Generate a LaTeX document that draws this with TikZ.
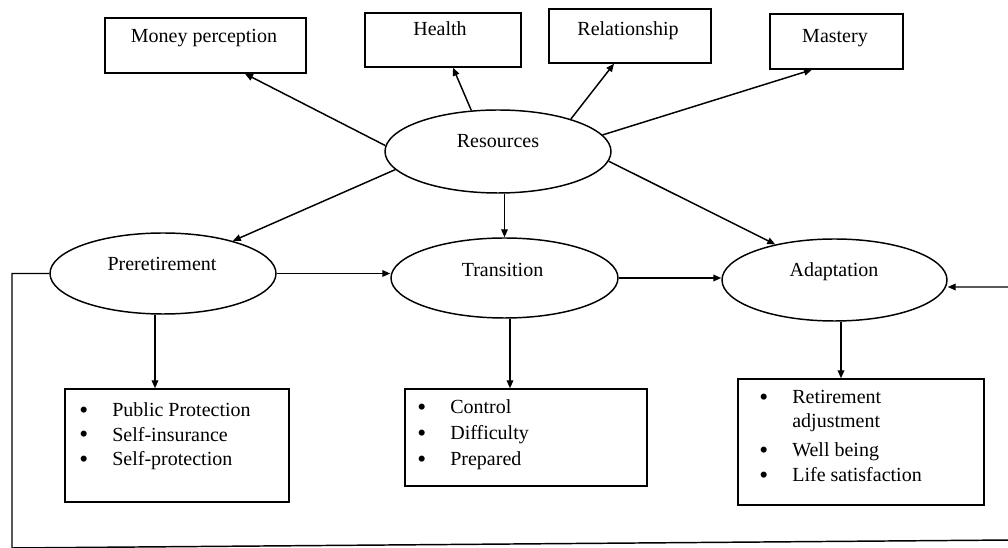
\documentclass[tikz,border=0pt]{standalone}
\usepackage{fontspec}
\setmainfont{Liberation Serif}
\usetikzlibrary{shapes.geometric,arrows.meta,calc}
\newcommand{\bigbul}{\raisebox{-1.3pt}{\fontsize{19}{19}\selectfont\textbullet}}
\tikzset{
  boxnode/.style={draw, rectangle, line width=1.1pt, inner sep=0pt},
  ellnode/.style={draw, ellipse, line width=1.1pt, inner sep=0pt},
  arr/.style={-{Triangle[length=6pt,width=5pt]}, line width=1.1pt},
  lbl/.style={anchor=base, inner sep=0pt, font=\fontsize{15}{18.75}\selectfont},
  lst/.style={anchor=base west, inner sep=0pt, font=\fontsize{15}{18.75}\selectfont}
}
\begin{document}
\begin{tikzpicture}[x=0.75pt,y=-0.75pt]
\useasboundingbox (0,0) rectangle (1008,548);
% top boxes
\node[boxnode, minimum width=150.75pt, minimum height=41.25pt] (money) at (205.5,45.5) {};
\node[boxnode, minimum width=117pt, minimum height=40.5pt] (health) at (443,40) {};
\node[boxnode, minimum width=121.5pt, minimum height=40.5pt] (relation) at (630,36) {};
\node[boxnode, minimum width=99.75pt, minimum height=41.25pt] (mastery) at (836.5,41.5) {};
\node[lbl] (moneyt) at (204,43) {Money perception};
\node[lbl] (healtht) at (440,36) {Health};
\node[lbl] (relationt) at (628,36) {Relationship};
\node[lbl] (masteryt) at (835,43) {Mastery};
% ellipses
\node[ellnode, minimum width=169.5pt, minimum height=62.25pt] (res) at (498,151.5) {};
\node[ellnode, minimum width=169.5pt, minimum height=60.75pt] (pre) at (163,273.5) {};
\node[ellnode, minimum width=170.25pt, minimum height=60pt] (trans) at (504.5,278) {};
\node[ellnode, minimum width=168.75pt, minimum height=61.5pt] (adapt) at (834.5,280) {};
\node[lbl] (rest) at (498,148) {Resources};
\node[lbl] (pret) at (162,271) {Preretirement};
\node[lbl] (transt) at (502.5,277) {Transition};
\node[lbl] (adaptt) at (834,277) {Adaptation};
% bottom boxes
\node[boxnode, minimum width=168pt, minimum height=84.75pt] (box1) at (177,445.5) {};
\node[boxnode, minimum width=181.5pt, minimum height=72.75pt] (box2) at (526,437.5) {};
\node[boxnode, minimum width=184.5pt, minimum height=94.5pt] (box3) at (861,442) {};
\node[lst] (list1) at (79,416.5) {\begin{tabular}[t]{@{}p{24.8pt}@{}l@{}}
\bigbul & Public Protection\\[-0.35pt]
\bigbul & Self-insurance\\[-0.35pt]
\bigbul & Self-protection
\end{tabular}};
\node[lst] (list2) at (417,414) {\begin{tabular}[t]{@{}p{24.8pt}@{}l@{}}
\bigbul & Control\\[0.75pt]
\bigbul & Difficulty\\[0.75pt]
\bigbul & Prepared
\end{tabular}};
\node[lst] (list3) at (759,404) {\begin{tabular}[t]{@{}p{24.8pt}@{}l@{}}
\bigbul & Retirement\\[-0.75pt]
 & adjustment\\[3pt]
\bigbul & Well being\\[0pt]
\bigbul & Life satisfaction
\end{tabular}};
% arrows from resources
\draw[arr] (res.177) -- ([xshift=29.6pt]money.south);
\draw[arr] (res.123) -- ([xshift=7.5pt]health.south);
\draw[arr] (res.24) -- ([xshift=-12pt]relation.south);
\draw[arr] (res.9) -- ([xshift=-18.4pt]mastery.south);
\draw[arr] (res.190) -- (pre.25);
\draw[arr] (res.south -| trans.north) -- (trans.north);
\draw[arr] (res.355) -- (adapt.149);
% horizontal flow
\draw[arr] (pre.east) -- (pre.east -| trans.west);
\draw[arr] (trans.east) -- (trans.east -| adapt.west);
% down arrows
\coordinate (d1) at ($(pre.south)+(-8,0)$);
\coordinate (d2) at ($(trans.south)+(5.5,0)$);
\coordinate (d3) at ($(adapt.south)+(6.5,0)$);
\draw[arr] (d1) -- (d1 |- box1.north);
\draw[arr] (d2) -- (d2 |- box2.north);
\draw[arr] (d3) -- (d3 |- box3.north);
% feedback loop
\coordinate (fb2) at (12,548);
\coordinate (fb3) at (1012,540);
\coordinate (fb4) at (1012,287);
\draw[arr] (pre.west) -- (pre.west -| fb2) -- (fb2) -- (fb3) -- (fb4) -- (fb4 -| adapt.east);
\end{tikzpicture}
\end{document}
